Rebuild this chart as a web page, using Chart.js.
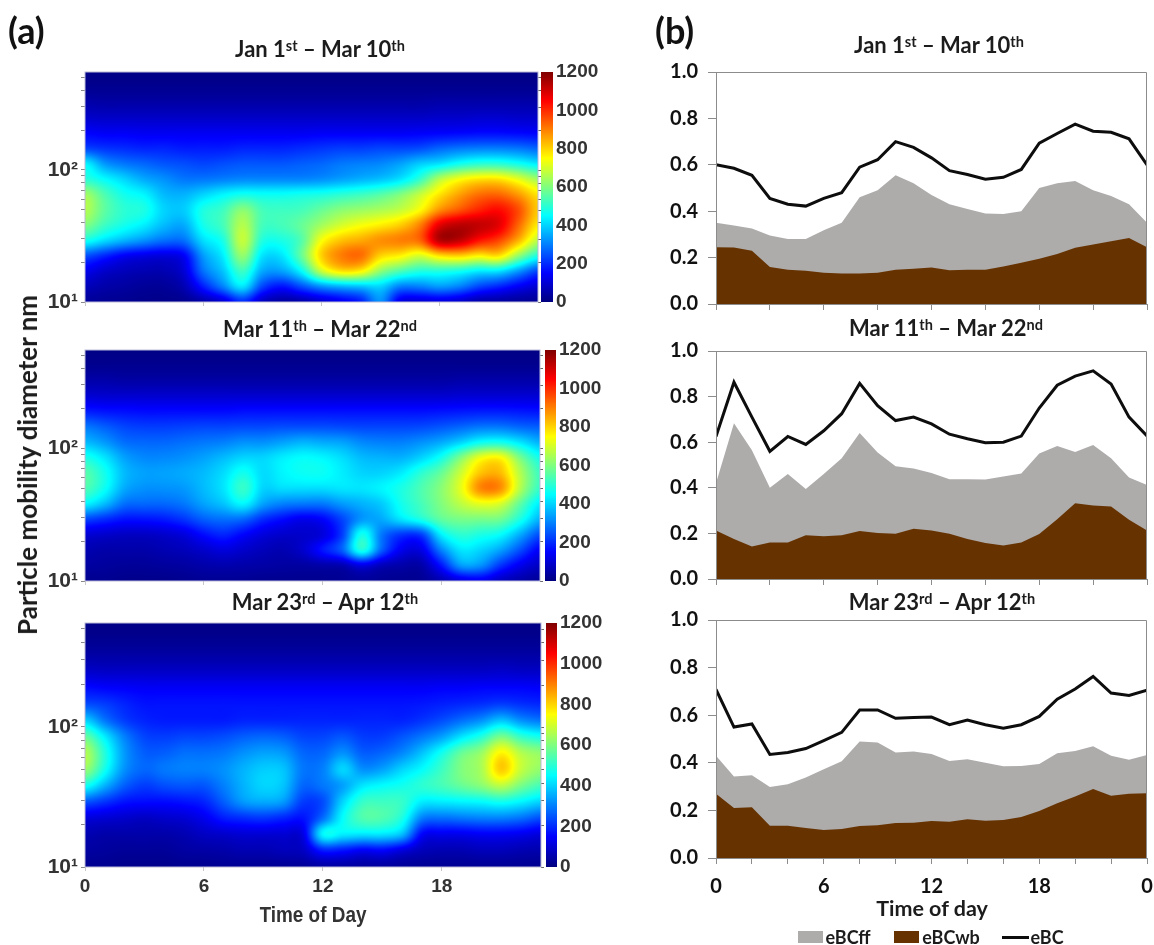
<!DOCTYPE html>
<html>
<head>
<meta charset="utf-8">
<script src="https://cdn.jsdelivr.net/npm/chart.js@4"></script>
<style>
html,body{margin:0;padding:0;background:#fff;width:1154px;height:945px;overflow:hidden}
canvas{position:absolute;display:block}
.t{position:absolute;white-space:nowrap;font-family:Lato,"Open Sans",sans-serif;font-weight:700;color:#1c1c1c;transform:translate(-50%,-50%)}
.t sup{font-size:.66em;line-height:0;vertical-align:baseline;position:relative;top:-.42em}
.panel{color:#111;transform:none}
.n{font-family:"Liberation Sans","Arial",sans-serif;color:#333}
.sw{position:absolute}
</style>
</head>
<body>
<script>
// ---------- shared axes ----------
const hours = [0,1,2,3,4,5,6,7,8,9,10,11,12,13,14,15,16,17,18,19,20,21,22,23,24];
const heatHours = [0,1,2,3,4,5,6,7,8,9,10,11,12,13,14,15,16,17,18,19,20,21,22,23];
const diameters = [10,13.1,17.1,22.3,29.2,38.1,49.8,65,85,111,145,190,248,324,421,550];
const diameterTicks = [10,20,30,40,50,60,70,80,90,100,200,300,400,500];
const colorTicks = [0,200,400,600,800,1000,1200];
const fractionTicks = [0,0.2,0.4,0.6,0.8,1.0];

// ---------- heat maps (dN/dlogDp), one row per diameter, smallest diameter first ----------
const heatJan = [
[30,25,20,15,15,20,50,100,200,80,40,50,90,130,180,320,120,100,110,90,50,40,30,25],
[70,50,40,30,30,60,180,300,420,230,170,240,320,360,380,400,300,300,330,300,230,190,140,100],
[130,90,70,60,60,100,280,380,520,350,340,450,680,780,760,620,540,490,490,470,430,420,330,230],
[240,190,140,120,110,140,330,430,620,420,420,570,800,900,920,800,760,700,780,800,760,780,620,480],
[470,410,360,320,280,280,410,480,680,490,480,550,740,820,850,880,900,930,1130,1120,1030,970,840,670],
[600,520,470,430,370,350,470,530,660,530,530,570,640,700,740,770,810,900,1080,1130,1120,1080,930,770],
[660,560,500,480,400,390,480,520,610,530,520,530,570,610,630,650,680,750,880,950,1010,1040,960,810],
[640,540,470,440,370,360,400,440,470,460,460,470,480,500,520,550,600,680,780,860,920,930,870,780],
[500,450,400,350,320,290,290,300,310,310,310,310,320,340,360,380,420,510,660,740,780,780,720,640],
[440,330,290,270,250,240,230,240,250,250,250,260,270,290,300,310,340,390,420,470,500,500,470,430],
[230,210,200,190,190,180,180,180,190,190,190,200,210,220,220,230,230,240,270,290,300,300,290,270],
[150,140,140,135,135,135,135,135,135,135,135,135,140,140,140,140,140,145,150,155,160,160,155,150],
[90,85,85,85,85,85,85,85,85,85,85,85,85,85,85,85,85,85,90,90,95,95,90,90],
[50,45,45,45,45,45,45,45,45,45,45,45,45,45,45,45,45,45,50,50,50,50,50,50],
[20,20,20,20,20,20,20,20,20,20,20,20,20,20,20,20,20,20,20,20,20,20,20,20],
[10,10,10,10,10,10,10,10,10,10,10,10,10,10,10,10,10,10,10,10,10,10,10,10]];
const heatMar = [
[20,20,15,15,15,20,25,25,25,20,20,20,20,25,30,25,20,25,60,110,130,80,50,30],
[40,35,30,30,35,40,50,55,50,45,40,40,50,60,120,70,50,50,170,330,320,210,130,80],
[60,50,50,50,60,70,90,110,90,70,60,90,170,260,480,260,130,120,300,420,400,340,240,140],
[100,90,80,80,90,110,160,190,150,110,90,90,110,220,470,290,210,220,430,500,480,450,350,240],
[230,200,170,170,180,210,260,280,270,200,160,130,150,230,330,350,420,480,560,590,590,580,480,360],
[440,370,280,270,270,290,340,380,440,340,300,290,290,330,360,390,470,530,600,670,720,700,560,430],
[540,460,350,320,320,330,370,420,510,400,410,410,410,420,420,440,480,540,610,720,890,880,660,510],
[550,470,370,340,340,350,370,410,470,410,440,460,460,430,400,400,430,500,570,690,820,830,660,520],
[480,420,340,310,310,320,340,370,400,400,430,450,440,410,370,360,360,400,470,600,730,750,590,470],
[370,330,280,270,270,280,290,300,320,320,340,360,350,340,310,300,300,320,350,400,460,470,420,360],
[290,260,230,220,220,225,230,230,235,235,240,240,240,235,230,230,230,235,250,270,290,290,270,260],
[180,170,165,160,160,160,160,160,165,165,165,165,165,165,165,165,165,165,170,175,180,180,175,170],
[100,95,95,95,95,95,95,95,95,95,95,95,95,95,95,95,95,95,95,100,100,100,100,100],
[50,50,45,45,45,45,45,45,45,45,45,45,45,45,45,45,45,45,45,50,50,50,50,50],
[20,20,20,20,20,20,20,20,20,20,20,20,20,20,20,20,20,20,20,20,20,20,20,20],
[8,8,8,8,8,8,8,8,8,8,8,8,8,8,8,8,8,8,8,8,8,8,8,8]];
const heatApr = [
[20,20,15,15,15,20,20,25,25,25,25,30,40,40,35,35,30,25,25,25,25,25,25,20],
[40,35,30,30,30,40,45,50,60,60,70,80,180,170,140,150,110,70,60,60,70,70,60,55],
[60,50,50,50,50,60,80,90,100,100,100,120,440,430,420,420,370,150,130,130,140,140,130,110],
[110,100,90,80,90,100,130,180,200,210,190,170,280,450,540,540,480,300,280,290,300,300,280,240],
[250,210,170,160,160,170,190,260,330,350,330,220,240,400,510,520,510,430,430,440,450,470,440,400],
[470,360,260,220,240,250,250,300,360,400,380,270,290,340,420,450,470,500,530,570,610,670,590,530],
[630,470,320,270,290,300,300,320,360,390,380,290,300,400,320,340,400,450,520,600,650,810,680,620],
[660,490,330,260,260,280,280,290,320,340,330,270,270,320,260,270,310,380,470,570,630,760,660,620],
[570,430,300,230,220,230,230,240,260,270,260,230,230,250,220,220,250,290,340,420,490,590,510,470],
[400,290,220,190,180,180,180,180,190,190,190,190,190,190,190,190,190,210,240,280,320,380,320,290],
[240,220,190,170,170,170,170,170,170,170,170,170,170,170,170,170,170,175,185,195,205,220,205,195],
[160,150,145,140,140,140,140,140,140,140,140,140,140,140,140,140,140,140,145,145,150,150,150,145],
[90,85,85,85,85,85,85,85,85,85,85,85,85,85,85,85,85,85,85,85,85,90,85,85],
[45,45,45,45,45,45,45,45,45,45,45,45,45,45,45,45,45,45,45,45,45,45,45,45],
[20,20,20,20,20,20,20,20,20,20,20,20,20,20,20,20,20,20,20,20,20,20,20,20],
[8,8,8,8,8,8,8,8,8,8,8,8,8,8,8,8,8,8,8,8,8,8,8,8]];

// ---------- panel (b) series ----------
const bcJan = [.60,.585,.555,.455,.43,.422,.455,.48,.59,.622,.70,.675,.63,.575,.558,.538,.546,.58,.693,.735,.775,.745,.74,.712,.60];
const ffJan = [.35,.338,.325,.295,.28,.28,.318,.35,.46,.49,.555,.52,.47,.43,.41,.39,.388,.40,.50,.52,.53,.49,.465,.43,.35];
const wbJan = [.245,.243,.23,.16,.148,.143,.135,.132,.132,.135,.148,.152,.157,.145,.148,.148,.162,.178,.195,.215,.242,.256,.27,.285,.245];
const bcMar = [.625,.863,.71,.56,.625,.59,.65,.725,.858,.76,.695,.71,.68,.635,.615,.598,.60,.627,.75,.85,.89,.913,.855,.71,.627];
const ffMar = [.42,.683,.565,.40,.46,.395,.46,.53,.64,.555,.495,.485,.465,.437,.437,.436,.45,.463,.55,.583,.557,.588,.53,.445,.412];
const wbMar = [.213,.175,.143,.16,.16,.192,.188,.192,.21,.202,.198,.22,.213,.198,.175,.158,.147,.16,.197,.262,.332,.322,.318,.26,.213];
const bcApr = [.708,.55,.563,.435,.443,.46,.493,.528,.622,.622,.587,.59,.592,.56,.58,.56,.545,.56,.595,.667,.71,.763,.693,.683,.705];
const ffApr = [.43,.342,.348,.298,.31,.338,.373,.407,.49,.485,.443,.447,.437,.408,.415,.40,.385,.387,.395,.44,.45,.47,.43,.413,.433];
const wbApr = [.27,.21,.213,.136,.135,.126,.118,.122,.134,.138,.147,.148,.155,.152,.163,.156,.16,.172,.198,.23,.258,.29,.262,.27,.272];

// ---------- helpers ----------
const clamp01 = v => Math.max(0, Math.min(1, v));
function jet(t){
  return [clamp01(1.5-Math.abs(4*t-3))*255, clamp01(1.5-Math.abs(4*t-2))*255, clamp01(1.5-Math.abs(4*t-1))*255];
}
function cr(a,b,c,d,t){ // Catmull-Rom shading between grid nodes
  return b + .5*t*(c-a + t*(2*a-5*b+4*c-d + t*(3*(b-c)+d-a)));
}
function heatAt(grid, xv, yv){
  const nx = heatHours.length, ny = diameters.length;
  const fx = Math.max(0, Math.min(nx-1.0001, xv));
  const ix = Math.floor(fx), tx = fx-ix;
  let iy = 0;
  while (iy < ny-2 && diameters[iy+1] <= yv) iy++;
  const ty = clamp01(Math.log(yv/diameters[iy]) / Math.log(diameters[iy+1]/diameters[iy]));
  const R = j => { j = Math.max(0, Math.min(ny-1, j)); const r = grid[j];
    const g = i => r[Math.max(0, Math.min(nx-1, i))];
    return cr(g(ix-1), g(ix), g(ix+1), g(ix+2), tx); };
  return cr(R(iy-1), R(iy), R(iy+1), R(iy+2), ty);
}
function mkCanvas(l,t,w,h){
  const c = document.createElement('canvas');
  c.width = w; c.height = h;
  c.style.left = l+'px'; c.style.top = t+'px'; c.style.width = w+'px'; c.style.height = h+'px';
  document.body.appendChild(c);
  return c;
}
const M = {l:70, r:24, t:24, b:50};
const narrow = '"Liberation Sans","Arial",sans-serif';

const heatPlugin = {
  id:'heat',
  beforeDatasetsDraw(chart){
    const {ctx, chartArea:a, scales:{x,y}} = chart;
    const grid = chart.config.options.plugins.heat.grid;
    const w = Math.round(a.right-a.left), h = Math.round(a.bottom-a.top);
    const img = ctx.createImageData(w,h);
    for (let py=0; py<h; py++){
      const yv = y.getValueForPixel(a.top+py+.5);
      for (let px=0; px<w; px++){
        const xv = x.getValueForPixel(a.left+px+.5);
        const [r,g,b] = jet(clamp01(heatAt(grid,xv,yv)/1200));
        const k = 4*(py*w+px);
        img.data[k]=r; img.data[k+1]=g; img.data[k+2]=b; img.data[k+3]=255;
      }
    }
    ctx.putImageData(img, Math.round(a.left), Math.round(a.top));
  },
  afterDraw(chart){
    const {ctx, chartArea:a, scales:{y}} = chart;
    ctx.save();
    ctx.strokeStyle = '#6a6a6a'; ctx.lineWidth = 1;
    y.ticks.forEach(t=>{
      const p = Math.round(y.getPixelForValue(t.value))+.5;
      ctx.beginPath(); ctx.moveTo(a.right,p); ctx.lineTo(a.right+3,p); ctx.stroke();
    });
    ctx.strokeStyle = '#b9b9d8';
    ctx.strokeRect(a.left,a.top,a.right-a.left,a.bottom-a.top);
    ctx.restore();
  }
};

function heatChart(grid, L,T,R,B, showX){
  const c = mkCanvas(L-M.l, T-M.t, R-L+M.l+M.r, B-T+M.t+M.b);
  const pts = [];
  grid.forEach((row,j)=>row.forEach((v,i)=>pts.push({x:heatHours[i], y:diameters[j], v})));
  return new Chart(c,{
    type:'scatter',
    data:{datasets:[{label:'Number concentration',data:pts,pointRadius:0,showLine:false}]},
    options:{
      responsive:false, animation:false, events:[],
      layout:{padding:{top:M.t,right:M.r,left:0,bottom:0}},
      plugins:{legend:{display:false},tooltip:{enabled:false},heat:{grid}},
      scales:{
        x:{type:'linear',min:0,max:23,
          afterBuildTicks(s){ s.ticks=[0,6,12,18].map(value=>({value})); },
          afterFit(s){ s.height=M.b; },
          border:{display:false},
          grid:{drawOnChartArea:false,tickLength:4,color:'#c8c8c8'},
          ticks:{display:showX,maxRotation:0,padding:4,color:'#333',font:{family:narrow,size:19,weight:'bold'},callback:v=>String(v)}},
        y:{type:'logarithmic',min:10,max:550,
          afterBuildTicks(s){ s.ticks=diameterTicks.map(value=>({value})); },
          afterFit(s){ s.width=M.l; },
          border:{display:false},
          grid:{drawOnChartArea:false,tickLength:4,color:'#8a8a8a'},
          ticks:{padding:3,color:'#333',autoSkip:false,font:{family:narrow,size:21,weight:'bold'},
            callback:v=> v===10?'10\u00B9':(v===100?'10\u00B2':'')}}
      }
    },
    plugins:[heatPlugin]
  });
}

const barPlugin = {
  id:'cbar',
  beforeDatasetsDraw(chart){
    const {ctx, chartArea:a, scales:{y}} = chart;
    for (let p=Math.round(a.top); p<Math.round(a.bottom); p++){
      const [r,g,b] = jet(clamp01(y.getValueForPixel(p+.5)/1200));
      ctx.fillStyle = `rgb(${r|0},${g|0},${b|0})`;
      ctx.fillRect(a.left,p,a.right-a.left,1);
    }
  }
};
function colorBar(L,T,R,B){
  const rr = 62;
  const c = mkCanvas(L, T-M.t, R-L+rr, B-T+M.t+24);
  return new Chart(c,{
    type:'scatter',
    data:{datasets:[{label:'Colour scale',data:[],pointRadius:0}]},
    options:{
      responsive:false, animation:false, events:[],
      layout:{padding:{top:M.t,bottom:24,left:0,right:0}},
      plugins:{legend:{display:false},tooltip:{enabled:false}},
      scales:{
        x:{display:false,min:0,max:1},
        y:{type:'linear',position:'right',min:0,max:1200,
          afterBuildTicks(s){ s.ticks=colorTicks.map(value=>({value})); },
          afterFit(s){ s.width=rr; },
          border:{display:false},
          grid:{display:false,drawTicks:false},
          ticks:{padding:3,color:'#333',autoSkip:false,font:{family:narrow,size:19,weight:'bold'},callback:v=>String(v)}}
      }
    },
    plugins:[barPlugin]
  });
}

const framePlugin = {
  id:'frame',
  afterDraw(chart){
    const {ctx, chartArea:a} = chart;
    ctx.save(); ctx.strokeStyle='#8c8c8c'; ctx.lineWidth=1;
    ctx.beginPath();
    ctx.moveTo(a.left+.5,a.bottom); ctx.lineTo(a.left+.5,a.top+.5); ctx.lineTo(a.right-.5,a.top+.5); ctx.lineTo(a.right-.5,a.bottom);
    ctx.stroke(); ctx.restore();
  }
};
function areaChart(bc,ff,wb, L,T,R,B, step, showX){
  const c = mkCanvas(L-M.l, T-M.t, R-L+M.l+M.r, B-T+M.t+M.b);
  const pts = s => s.map((v,i)=>({x:hours[i],y:v}));
  return new Chart(c,{
    type:'line',
    data:{datasets:[
      {label:'eBC',data:pts(bc),borderColor:'#0d0d0d',borderWidth:3,pointRadius:0,tension:0,fill:false,order:1,borderJoinStyle:'miter'},
      {label:'eBCwb',data:pts(wb),borderWidth:0,backgroundColor:'#663300',pointRadius:0,tension:0,fill:'origin',order:2},
      {label:'eBCff',data:pts(ff),borderWidth:0,backgroundColor:'#aeabab',pointRadius:0,tension:0,fill:'origin',order:3}
    ]},
    options:{
      responsive:false, animation:false, events:[],
      layout:{padding:{top:M.t,right:M.r,left:0,bottom:0}},
      plugins:{legend:{display:false},tooltip:{enabled:false}},
      scales:{
        x:{type:'linear',min:0,max:24,
          afterBuildTicks(s){ const t=[]; for(let v=0;v<=24;v+=step) t.push({value:v}); s.ticks=t; },
          afterFit(s){ s.height=M.b; },
          border:{color:'#8c8c8c'},
          grid:{drawOnChartArea:false,tickLength:6,color:'#8c8c8c'},
          ticks:{display:true,maxRotation:0,autoSkip:false,padding:showX?11:0,color:showX?'#111':'rgba(0,0,0,0)',font:{family:'Lato',size:20,weight:'bold'},
            callback:v=> !showX?'':(v%6===0?String(v%24):'')}},
        y:{min:0,max:1,
          afterBuildTicks(s){ s.ticks=fractionTicks.map(value=>({value})); },
          afterFit(s){ s.width=M.l; },
          border:{color:'#8c8c8c'},
          grid:{drawOnChartArea:false,tickLength:8,color:'#8c8c8c'},
          ticks:{padding:10,color:'#111',font:{family:'Lato',size:20,weight:'bold'},callback:v=>v.toFixed(1)}}
      }
    },
    plugins:[framePlugin]
  });
}

// ---------- build ----------
heatChart(heatJan, 85,72,538,302,false);  colorBar(541,72,553,302);
heatChart(heatMar, 85,350,540,581,false); colorBar(545,350,556,581);
heatChart(heatApr, 85,623,541,867,true);  colorBar(546,623,557,867);
areaChart(bcJan,ffJan,wbJan, 716,72,1147,304, 3,false);
areaChart(bcMar,ffMar,wbMar, 716,351,1147,579, 3,false);
areaChart(bcApr,ffApr,wbApr, 716,620,1147,858, 2,true);

function text(html,x,y,size,cls){
  const d=document.createElement('div');
  d.className='t '+(cls||''); d.innerHTML=html;
  d.style.left=x+'px'; d.style.top=y+'px'; if(size) d.style.fontSize=size+'px';
  document.body.appendChild(d); return d;
}
const tJan='Jan 1<sup>st</sup> – Mar 10<sup>th</sup>', tMar='Mar 11<sup>th</sup> – Mar 22<sup>nd</sup>', tApr='Mar 23<sup>rd</sup> – Apr 12<sup>th</sup>';
text(tJan,320,48,22); text(tMar,320,328,22); text(tApr,325,601,22);
text(tJan,939,44,22); text(tMar,946,327,22); text(tApr,942,601,22);
text('(a)',8,8,36,'panel'); text('(b)',655,8,36,'panel');
const yl=text('Particle mobility diameter nm',27,465,26); yl.style.transform='translate(-50%,-50%) rotate(-90deg)';
const tod=text('Time of Day',313,915,22,'n'); tod.style.transform='translate(-50%,-50%) scaleX(.86)';
text('Time of day',932,908,21.5);
function swatch(x,y,w,h,col){ const s=document.createElement('div'); s.className='sw'; s.style.cssText=`left:${x}px;top:${y}px;width:${w}px;height:${h}px;background:${col}`; document.body.appendChild(s); }
swatch(798,931,25,12,'#aeabab'); text('eBCff',848,937,18);
swatch(894,931,25,12,'#663300'); text('eBCwb',951,937,18);
swatch(1002,936,27,3,'#0d0d0d'); text('eBC',1047,937,18);
</script>
</body>
</html>
